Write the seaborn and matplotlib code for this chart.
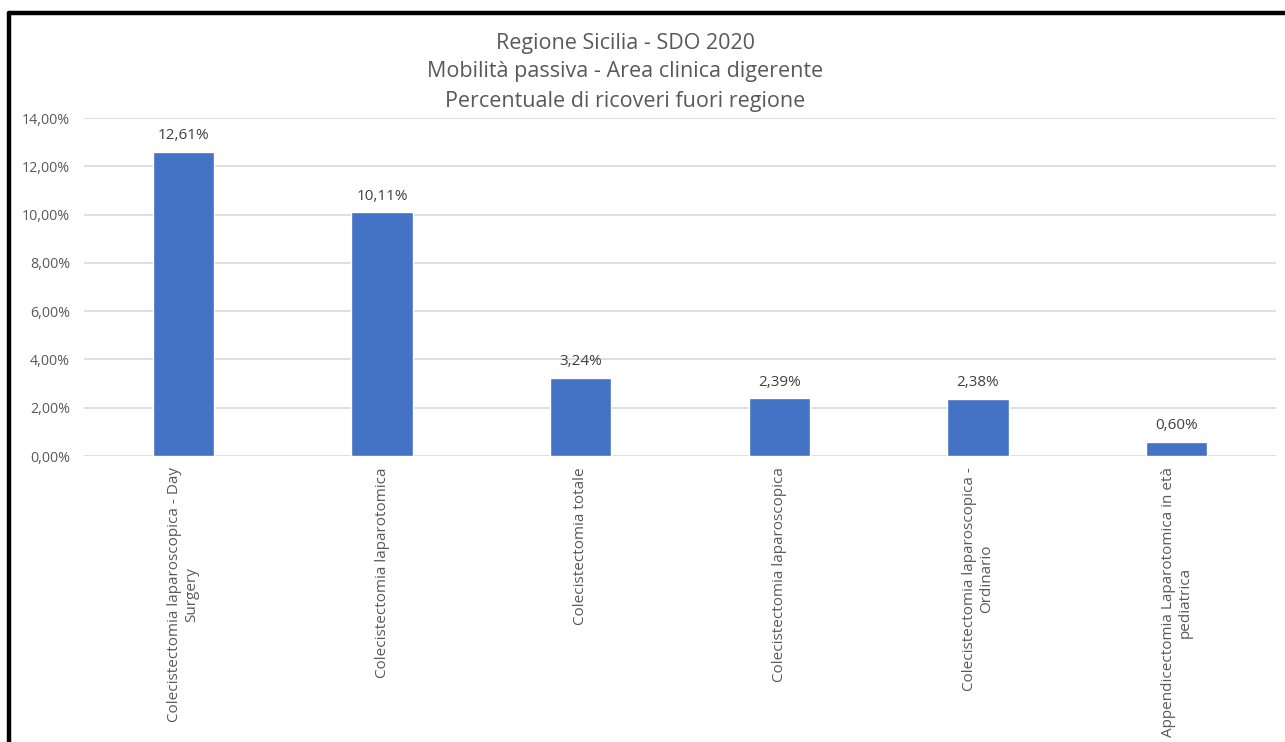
import matplotlib
matplotlib.use("Agg")
import matplotlib.pyplot as plt
import matplotlib.ticker as mticker
from matplotlib.lines import Line2D
import seaborn as sns
import pandas as pd

categories = [
    "Colecistectomia laparoscopica - Day\nSurgery",
    "Colecistectomia laparotomica",
    "Colecistectomia totale",
    "Colecistectomia laparoscopica",
    "Colecistectomia laparoscopica -\nOrdinario",
    "Appendicectomia Laparotomica in età\npediatrica",
]
values = [12.61, 10.11, 3.24, 2.39, 2.38, 0.60]
y_ticks = [0, 2, 4, 6, 8, 10, 12, 14]
title_lines = [
    "Regione Sicilia - SDO 2020",
    "Mobilità passiva - Area clinica digerente",
    "Percentuale di ricoveri fuori regione",
]

sns.set_theme(style="white")
plt.rcParams["font.family"] = ["Open Sans", "DejaVu Sans"]

df = pd.DataFrame({"categoria": categories, "valore": values})

fig = plt.figure(figsize=(12.85, 7.42), dpi=100)
ax = fig.add_axes([84 / 1285, 1 - 456 / 742, (1276 - 84) / 1285, (456 - 118) / 742])

sns.barplot(data=df, x="categoria", y="valore", color="#4472C4",
            width=0.31, saturation=1, ax=ax, zorder=3)

ax.set_ylim(0, 14)
ax.set_xlim(-0.5, len(categories) - 0.5)
ax.set_yticks(y_ticks)
ax.yaxis.set_major_formatter(mticker.FuncFormatter(lambda v, _: f"{v:.2f}%".replace(".", ",")))
ax.grid(axis="y", color="#D9D9D9", linewidth=1.2, zorder=0)
ax.set_axisbelow(True)
for s in ax.spines.values():
    s.set_visible(False)
ax.set_xlabel("")
ax.set_ylabel("")
ax.tick_params(axis="y", length=0, pad=10, labelsize=10.3, labelcolor="#595959")
ax.tick_params(axis="x", length=0, pad=8, labelsize=11, labelcolor="#595959")
for lab in ax.get_xticklabels():
    lab.set_rotation(90)
    lab.set_ha("center")
    lab.set_va("top")
    lab.set_multialignment("center")

for i, v in enumerate(values):
    ax.annotate(f"{v:.2f}%".replace(".", ","), (i, v), xytext=(0, 6),
                textcoords="offset points", ha="center", va="bottom",
                fontsize=11, color="#404040")

for k, line in enumerate(title_lines):
    fig.text(625 / 1285, 1 - (43 + 29 * k) / 742, line,
             ha="center", va="center", fontsize=15.5, color="#595959")

# outer frame (top and left edges)
fig.add_artist(Line2D([9 / 1285, 1], [1 - 13 / 742, 1 - 13 / 742],
                      transform=fig.transFigure, color="black", linewidth=3.2))
fig.add_artist(Line2D([9 / 1285, 9 / 1285], [0, 1 - 13 / 742],
                      transform=fig.transFigure, color="black", linewidth=3.2))

fig.savefig("out.png", dpi=100, facecolor="white")
